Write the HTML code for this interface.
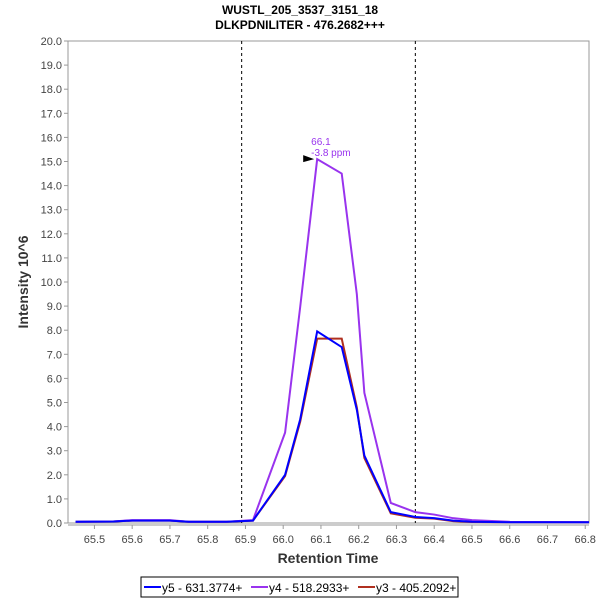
<!DOCTYPE html>
<html><head><meta charset="utf-8"><style>
body{margin:0;background:#fff;font-family:"Liberation Sans",sans-serif}
svg text{font-family:"Liberation Sans",sans-serif}
</style></head><body>
<svg width="600" height="600" xmlns="http://www.w3.org/2000/svg">
<text x="300" y="14" text-anchor="middle" font-size="12" font-weight="bold">WUSTL_205_3537_3151_18</text>
<text x="300" y="29" text-anchor="middle" font-size="12" font-weight="bold">DLKPDNILITER - 476.2682+++</text>
<g id="axes"></g>
<g id="series"></g>
<text x="328" y="563" text-anchor="middle" font-size="14" font-weight="bold" fill="#333">Retention Time</text>
<text transform="translate(28,282) rotate(-90)" text-anchor="middle" font-size="14" font-weight="bold" fill="#333">Intensity 10^6</text>
<g>
<rect x="141" y="577" width="317" height="20" fill="#fff" stroke="#000"/>
<g><line x1="144" y1="587" x2="161" y2="587" stroke="#0000ff" stroke-width="2"/><text x="162" y="592" font-size="12" fill="#000">y5 - 631.3774+</text></g>
<g><line x1="251" y1="587" x2="268" y2="587" stroke="#9933ee" stroke-width="2"/><text x="269" y="592" font-size="12" fill="#000">y4 - 518.2933+</text></g>
<g><line x1="358" y1="587" x2="375" y2="587" stroke="#b03020" stroke-width="2"/><text x="376" y="592" font-size="12" fill="#000">y3 - 405.2092+</text></g>
</g>
</svg>
<script>
const xTicks=[65.5,65.6,65.7,65.8,65.9,66.0,66.1,66.2,66.3,66.4,66.5,66.6,66.7,66.8];
const yTicks=[0,1,2,3,4,5,6,7,8,9,10,11,12,13,14,15,16,17,18,19,20];
const times=[65.45,65.55,65.6,65.7,65.75,65.85,65.92,66.005,66.045,66.09,66.155,66.195,66.215,66.285,66.35,66.4,66.45,66.5,66.6,66.81];
const y5=[0.05,0.06,0.1,0.1,0.05,0.05,0.1,2.0,4.3,7.95,7.3,4.7,2.8,0.45,0.25,0.2,0.1,0.05,0.03,0.03];
const y4=[0.05,0.06,0.12,0.12,0.05,0.05,0.12,3.75,8.96,15.1,14.5,9.5,5.4,0.83,0.45,0.35,0.2,0.12,0.05,0.03];
const y3=[0.05,0.06,0.1,0.1,0.05,0.05,0.1,1.95,4.2,7.65,7.65,4.8,2.7,0.4,0.22,0.18,0.08,0.04,0.03,0.03];
const boundaries=[65.89,66.35];
const peakTime=66.09, peakVal=15.1;
const NS="http://www.w3.org/2000/svg";
const X0=68,X1=589,Y0=523,Y1=41,XMIN=65.43,XMAX=66.81,YMAX=20;
const sx=v=>X0+(v-XMIN)/(XMAX-XMIN)*(X1-X0);
const sy=v=>Y0-v/YMAX*(Y0-Y1);
function mk(t,a,p){const e=document.createElementNS(NS,t);for(const k in a)e.setAttribute(k,a[k]);p.appendChild(e);return e;}
const ax=document.getElementById('axes');
const fr=mk('rect',{x:X0,y:Y1,width:X1-X0,height:Y0-Y1,fill:'none',stroke:'#999'},ax);


yTicks.forEach(v=>{
 mk('line',{x1:X0-4,x2:X0,y1:sy(v),y2:sy(v),stroke:'#999'},ax);
 const t=mk('text',{x:X0-6,y:sy(v)+4,'text-anchor':'end','font-size':11,fill:'#444'},ax);
 t.textContent=v.toFixed(1);
 
 
});
xTicks.forEach(v=>{
 mk('line',{x1:sx(v),x2:sx(v),y1:Y0+2,y2:Y0+6,stroke:'#999'},ax);
 const t=mk('text',{x:sx(v),y:Y0+20,'text-anchor':'middle','font-size':11,fill:'#444'},ax);
 t.textContent=v.toFixed(1);
 
 
});
mk('line',{x1:X0,x2:X1,y1:Y0+2,y2:Y0+2,stroke:'#999'},ax);
boundaries.forEach(b=>{
 const l=mk('line',{x1:sx(b),x2:sx(b),y1:Y1,y2:Y0,stroke:'#000','stroke-dasharray':'3,3'},ax);
 
 
});
const sg=document.getElementById('series');
[[y3,'#b03020','series-y3'],[y4,'#9933ee','series-y4'],[y5,'#0000ff','series-y5']].forEach(([d,c,n])=>{
 const p=mk('polyline',{points:d.map((v,i)=>sx(times[i])+','+sy(v)).join(' '),fill:'none',stroke:c,'stroke-width':2},sg);
 
 
});
const px=sx(peakTime),py=sy(peakVal);
const ar=mk('polygon',{points:`${px-14},${py-4} ${px-3},${py} ${px-14},${py+3}`,fill:'#000'},sg);


const t1=mk('text',{x:px-6,y:py-14,'font-size':10,fill:'#9933ee'},sg);t1.textContent='66.1';


const t2=mk('text',{x:px-6,y:py-3,'font-size':10,fill:'#9933ee'},sg);t2.textContent='-3.8 ppm';


</script>
</body></html>
